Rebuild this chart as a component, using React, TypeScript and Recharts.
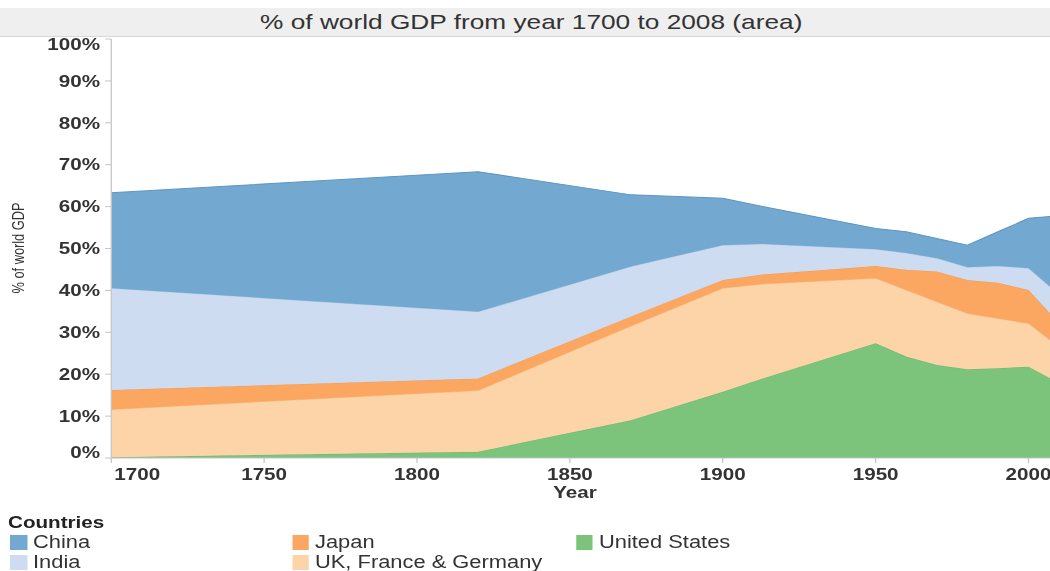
import React from 'react';
import { AreaChart, Area, XAxis, YAxis, Label } from 'recharts';

// the reference picture is stretched sideways, so the whole chart is drawn narrow and scaled
const STRETCH = 1.25;
const FONT = '"Liberation Sans", Arial, sans-serif';

const years = [1700, 1820, 1870, 1900, 1913, 1950, 1960, 1970, 1980, 1990, 2000, 2008];
const usShare = [0.2, 1.5, 9.0, 15.8, 19.0, 27.4, 24.2, 22.2, 21.2, 21.4, 21.8, 18.7];
const ukFrGeShare = [11.4, 14.6, 22.5, 24.7, 22.5, 15.5, 15.9, 15.1, 13.3, 11.9, 10.3, 8.9];
const japanShare = [4.6, 2.9, 2.3, 2.0, 2.3, 2.9, 4.8, 7.2, 8.0, 8.5, 8.0, 6.2];
const indiaShare = [24.3, 15.9, 11.9, 8.3, 7.3, 4.0, 4.0, 3.2, 3.0, 4.0, 5.2, 6.5];
const chinaShare = [22.8, 33.4, 17.1, 11.2, 8.9, 5.0, 5.1, 4.7, 5.3, 8.2, 11.9, 17.4];

const xTicks = [1700, 1750, 1800, 1850, 1900, 1950, 2000];
const yTicks = [0, 10, 20, 30, 40, 50, 60, 70, 80, 90, 100];

const data = years.map((year, i) => ({
    year,
    us: usShare[i],
    ukfg: ukFrGeShare[i],
    japan: japanShare[i],
    india: indiaShare[i],
    china: chinaShare[i],
}));

// bottom to top
const series = [
    { key: 'us', name: 'United States', fill: '#7cc47c', stroke: '#6cb86c' },
    { key: 'ukfg', name: 'UK, France & Germany', fill: '#fdd3a8', stroke: '#f6c28e' },
    { key: 'japan', name: 'Japan', fill: '#fba762', stroke: '#f39a52' },
    { key: 'india', name: 'India', fill: '#cddcf1', stroke: '#b9cce6' },
    { key: 'china', name: 'China', fill: '#73a9d0', stroke: '#5e95c3' },
];

const legendOrder = ['china', 'india', 'japan', 'ukfg', 'us'];

const YTick = (props: any) => {
    const { x, y, payload } = props;
    let dy = 0;
    if (payload.value === 0) dy = -6;
    if (payload.value === 100) dy = 5;
    return (
        <text x={x} y={y + dy} textAnchor="end" dominantBaseline="central" fill="#333"
            fontSize={16.5} fontWeight="bold" fontFamily={FONT}>
            {payload.value}%
        </text>
    );
};

const XTick = (props: any) => {
    const { x, y, payload } = props;
    const first = payload.value === 1700;
    return (
        <text x={first ? x + 2.5 : x} y={y} dy="0.71em" textAnchor={first ? 'start' : 'middle'}
            fill="#333" fontSize={16.5} fontWeight="bold" fontFamily={FONT}>
            {payload.value}
        </text>
    );
};

export default function App() {
    return (
        <div style={{ position: 'fixed', left: 0, top: 0, width: 1050, height: 571, overflow: 'hidden', background: '#fff' }}>
            <div style={{ position: 'absolute', left: 0, top: 0, width: 850, height: 571, transform: `scaleX(${STRETCH})`, transformOrigin: '0 0', fontFamily: FONT }}>
                <div style={{
                    position: 'absolute', left: 0, top: 8, width: 840, height: 29, background: '#efefef',
                    borderBottom: '1px solid #d8d8d8', display: 'flex', alignItems: 'center', justifyContent: 'center',
                    fontSize: 21, color: '#333', boxSizing: 'border-box',
                }}>
                    <span style={{ marginLeft: 10 }}>% of world GDP from year 1700 to 2008 (area)</span>
                </div>

                <div style={{ position: 'absolute', left: 0, top: 0 }}>
                    <AreaChart width={850} height={500} data={data} margin={{ top: 39, right: 7.6, bottom: 0, left: 0 }}>
                        <XAxis dataKey="year" type="number" domain={[1700, 2008]} ticks={xTicks} height={42}
                            tick={<XTick />} tickSize={5} tickMargin={5} stroke="#c4c4c4" allowDataOverflow>
                            <Label content={() => (
                                <text x={460} y={492} textAnchor="middle" dominantBaseline="central" fill="#333"
                                    fontSize={16.5} fontWeight="bold" fontFamily={FONT}>Year</text>
                            )} />
                        </XAxis>
                        <YAxis type="number" domain={[0, 100]} ticks={yTicks} width={89} tick={<YTick />}
                            tickSize={5} tickMargin={4} stroke="#c4c4c4" interval={0}>
                            <Label content={() => (
                                <text x={14.4} y={248} transform="rotate(-90 14.4 248)" textAnchor="middle"
                                    dominantBaseline="central" fill="#333" fontSize={12.8} fontFamily={FONT}>
                                    % of world GDP
                                </text>
                            )} />
                        </YAxis>
                        {series.map((s) => (
                            <Area key={s.key} type="linear" dataKey={s.key} name={s.name} stackId="gdp"
                                fill={s.fill} fillOpacity={1} stroke={s.stroke} strokeWidth={1}
                                isAnimationActive={false} dot={false} activeDot={false} />
                        ))}
                    </AreaChart>
                </div>

                <div style={{ position: 'absolute', left: 6.4, top: 513, fontSize: 16.5, fontWeight: 'bold', color: '#222', lineHeight: '18px' }}>
                    Countries
                </div>
                <div style={{
                    position: 'absolute', left: 8, top: 532, display: 'grid', gridAutoFlow: 'column',
                    gridTemplateRows: 'repeat(2, 20px)', gridTemplateColumns: '225.6px 227.2px 200px',
                }}>
                    {legendOrder.map((k) => {
                        const s = series.find((x) => x.key === k)!;
                        return (
                            <div key={k} style={{ display: 'flex', alignItems: 'center', height: 20 }}>
                                <div style={{ width: 13.6, height: 15, background: s.fill, marginRight: 4.8 }} />
                                <span style={{ fontSize: 17.5, color: '#333' }}>{s.name}</span>
                            </div>
                        );
                    })}
                </div>
            </div>
        </div>
    );
}
